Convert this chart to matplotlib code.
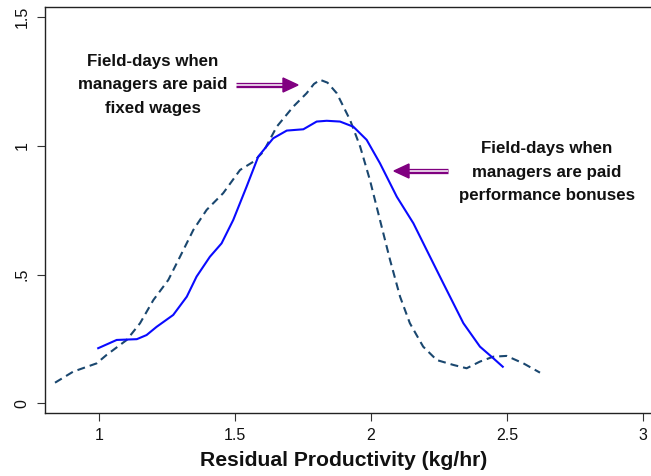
import matplotlib
matplotlib.use("Agg")
import matplotlib.pyplot as plt
from matplotlib.patches import Polygon

plt.rcParams['font.family'] = ['Liberation Sans', 'DejaVu Sans']

# Kernel density: field-days with fixed wages (dashed)
fixed_x = [0.837, 0.904, 0.990, 1.027, 1.101, 1.150, 1.199, 1.254, 1.297, 1.346,
           1.395, 1.456, 1.518, 1.567, 1.604, 1.653, 1.714, 1.763, 1.790, 1.813,
           1.840, 1.874, 1.923, 1.960, 1.996, 2.033, 2.070, 2.107, 2.143, 2.192,
           2.242, 2.303, 2.352, 2.401, 2.450, 2.499, 2.561, 2.622]
fixed_y = [0.080, 0.123, 0.155, 0.188, 0.246, 0.311, 0.401, 0.479, 0.569, 0.673,
           0.751, 0.816, 0.906, 0.938, 0.977, 1.074, 1.152, 1.204, 1.240, 1.256,
           1.245, 1.204, 1.100, 0.997, 0.867, 0.712, 0.557, 0.414, 0.311, 0.220,
           0.168, 0.149, 0.136, 0.162, 0.181, 0.184, 0.155, 0.119]

# Kernel density: field-days with performance bonuses (solid)
bonus_x = [0.996, 1.064, 1.138, 1.174, 1.211, 1.272, 1.322, 1.358, 1.407, 1.450,
           1.493, 1.542, 1.585, 1.640, 1.690, 1.751, 1.800, 1.837, 1.886, 1.935,
           1.984, 2.033, 2.095, 2.156, 2.205, 2.266, 2.340, 2.401, 2.450, 2.485]
bonus_y = [0.214, 0.246, 0.249, 0.265, 0.297, 0.343, 0.414, 0.492, 0.569, 0.621,
           0.712, 0.841, 0.958, 1.029, 1.059, 1.064, 1.094, 1.097, 1.094, 1.074,
           1.023, 0.932, 0.802, 0.699, 0.595, 0.466, 0.311, 0.220, 0.175, 0.142]

x_ticks = [1, 1.5, 2, 2.5, 3]
x_ticklabels = ['1', '1.5', '2', '2.5', '3']
y_ticks = [0, 0.5, 1, 1.5]
y_ticklabels = ['0', '.5', '1', '1.5']

label_fixed = "Field-days when\nmanagers are paid\nfixed wages"
label_bonus = "Field-days when\nmanagers are paid\nperformance bonuses"
x_label = "Residual Productivity (kg/hr)"

W, H = 651, 476
fig = plt.figure(figsize=(W / 100, H / 100), dpi=100)
ax = fig.add_axes([45 / W, (H - 413) / H, 615 / W, 406 / H])

# data ranges matched to pixel geometry
px_per_x = (642.7 - 99.3) / 2.0
px_per_y = (403.3 - 17) / 1.5
ax.set_xlim(1 - (99.3 - 45) / px_per_x, 1 + (660 - 99.3) / px_per_x)
ax.set_ylim(0 - (413 - 403.3) / px_per_y, 1.5 + (17 - 7) / px_per_y)

navy = '#1a476f'
blue = '#0a0aff'
purple = '#800080'

ax.plot(fixed_x, fixed_y, color=navy, lw=1.5, dashes=(3.8, 2.4), solid_capstyle='butt')
ax.plot(bonus_x, bonus_y, color=blue, lw=1.5)

ax.set_xticks(x_ticks)
ax.set_xticklabels(x_ticklabels)
ax.set_yticks(y_ticks)
ax.set_yticklabels(y_ticklabels, rotation=90, va='center')
ax.tick_params(axis='both', direction='out', length=6, width=0.8, colors='#333333',
               labelcolor='#111111', labelsize=11.5)
ax.tick_params(axis='x', pad=5)
ax.tick_params(axis='y', pad=5)
for s in ['left', 'bottom', 'top']:
    ax.spines[s].set_color('#222222')
    ax.spines[s].set_linewidth(1.0)
ax.spines['right'].set_visible(False)


def to_data(px, py):
    x = 1 + (px - 99.3) / px_per_x
    y = (403.3 - py) / px_per_y
    return x, y


def double_arrow(tail_px, tip_px, y_px, head_len=15, head_half=7):
    direction = 1 if tip_px > tail_px else -1
    base_px = tip_px - direction * head_len
    x0, y0 = to_data(tail_px, y_px)
    x1, _ = to_data(base_px + direction * 1, y_px)
    ax.plot([x0, x1], [y0, y0], color=purple, lw=3.8, solid_capstyle='butt', zorder=5)
    ax.plot([x0, x1], [y0, y0], color='white', lw=1.1, solid_capstyle='butt', zorder=6)
    pts = [to_data(tip_px, y_px), to_data(base_px, y_px - head_half),
           to_data(base_px, y_px + head_half)]
    ax.add_patch(Polygon(pts, closed=True, color=purple, zorder=7))


double_arrow(236, 298, 85)
double_arrow(448, 394, 171)

tx, ty = to_data(153, 85)
ax.text(tx, ty, label_fixed, ha='center', va='center', fontsize=12.2,
        fontweight='bold', color='#111111', linespacing=1.68)
tx, ty = to_data(547, 172)
ax.text(tx, ty, label_bonus, ha='center', va='center', fontsize=12.2,
        fontweight='bold', color='#111111', linespacing=1.68)

fig.text(344 / W, (H - 461) / H, x_label, ha='center', va='center', fontsize=15.2,
         fontweight='bold', color='#111111')

fig.savefig('out.png', dpi=100)
